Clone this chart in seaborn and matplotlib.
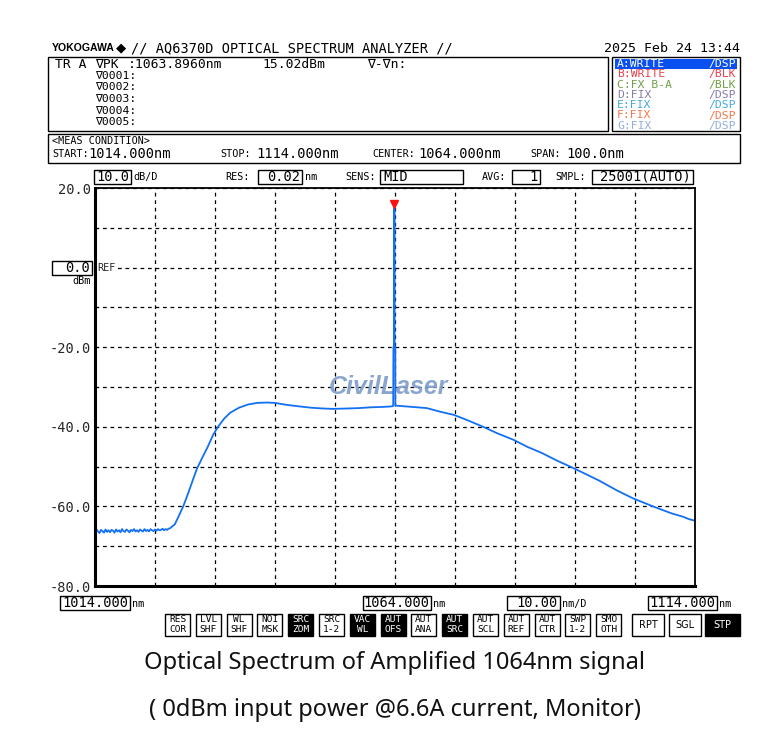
import matplotlib
matplotlib.use("Agg")
import pandas as pd
import seaborn as sns
import matplotlib.pyplot as plt
from matplotlib.patches import Rectangle
from matplotlib.transforms import offset_copy

# --- trace data (nm, dBm) ---
# noisy ASE floor on the short-wavelength side
floor_wl = [
    1014.00, 1014.25, 1014.50, 1014.75, 1015.00, 1015.25, 1015.50, 1015.75, 1016.00, 1016.25,
    1016.50, 1016.75, 1017.00, 1017.25, 1017.50, 1017.75, 1018.00, 1018.25, 1018.50, 1018.75,
    1019.00, 1019.25, 1019.50, 1019.75, 1020.00, 1020.25, 1020.50, 1020.75, 1021.00, 1021.25,
    1021.50, 1021.75, 1022.00, 1022.25, 1022.50, 1022.75, 1023.00, 1023.25, 1023.50, 1023.75,
    1024.00, 1024.25, 1024.50, 1024.75, 1025.00, 1025.25, 1025.50, 1025.75, 1026.00, 1026.25,
    1026.50,
]
floor_dbm = [
    -66.5, -65.8, -66.3, -66.7, -65.9, -66.2, -66.6, -65.8, -66.4, -66.0,
    -66.5, -65.9, -66.1, -66.6, -65.8, -66.3, -66.0, -66.5, -65.7, -66.2,
    -66.4, -65.8, -66.1, -66.5, -65.9, -66.2, -65.7, -66.3, -66.0, -66.4,
    -65.8, -66.1, -66.3, -65.7, -66.2, -65.9, -66.3, -65.7, -66.0, -66.2,
    -65.8, -66.1, -65.7, -66.0, -65.9, -65.6, -66.0, -65.7, -65.9, -65.6,
    -65.5,
]
# amplified band, signal spike and long-wavelength tail
band_wl = [
    1027.3, 1028.0, 1028.7, 1029.5, 1030.3, 1031.0, 1031.8, 1032.8, 1033.7, 1034.5,
    1035.5, 1036.5, 1038.0, 1039.5, 1041.0, 1042.6, 1044.0, 1046.0, 1048.2, 1050.0,
    1052.0, 1053.7, 1056.0, 1058.0, 1060.0, 1062.0, 1063.2, 1063.70,
    1063.74, 1063.86, 1063.896, 1063.93, 1064.05, 1064.06,
    1064.3, 1066.0, 1069.3, 1071.5, 1073.8, 1076.0, 1078.7, 1081.0, 1083.8, 1086.0,
    1088.5, 1091.0, 1093.2, 1095.0, 1098.0, 1101.0, 1103.7, 1107.0, 1110.0, 1112.0,
    1113.0, 1114.0,
]
band_dbm = [
    -64.5, -62.3, -60.0, -56.8, -53.4, -50.5, -48.0, -45.0, -42.0, -40.0,
    -38.0, -36.5, -35.2, -34.4, -34.0, -33.9, -34.0, -34.5, -34.9, -35.2,
    -35.4, -35.5, -35.4, -35.3, -35.1, -35.0, -34.9, -34.8,
    -20.0, -19.5, 15.02, -19.5, -20.0, -34.6,
    -34.7, -34.9, -35.3, -36.2, -37.0, -38.3, -40.0, -41.6, -43.3, -45.0,
    -46.6, -48.5, -50.0, -51.3, -53.5, -56.0, -58.0, -60.0, -61.7, -62.6,
    -63.2, -63.6,
]
peak_wl = 1063.896
peak_dbm = 15.02

y_ticks = [20, 10, 0, -10, -20, -30, -40, -50, -60, -70, -80]
y_tick_labels = ["20.0", "", "", "", "-20.0", "", "-40.0", "", "-60.0", "", "-80.0"]
x_ticks = [1014, 1024, 1034, 1044, 1054, 1064, 1074, 1084, 1094, 1104, 1114]

trace_names = ["A:WRITE", "B:WRITE", "C:FX B-A", "D:FIX", "E:FIX", "F:FIX", "G:FIX"]
trace_modes = ["/DSP", "/BLK", "/BLK", "/DSP", "/DSP", "/DSP", "/DSP"]
trace_colors = ["white", "#e8414a", "#6f9f45", "#8a7aa8", "#45a9da", "#f47a4c", "#93aedb"]

button_top = ["RES", "LVL", "WL", "NOI", "SRC", "SRC", "VAC", "AUT", "AUT", "AUT",
              "AUT", "AUT", "AUT", "SWP", "SMO"]
button_bot = ["COR", "SHF", "SHF", "MSK", "ZOM", "1-2", "WL", "OFS", "ANA", "SRC",
              "SCL", "REF", "CTR", "1-2", "OTH"]
button_dark = [0, 0, 0, 0, 1, 0, 1, 1, 0, 1, 0, 0, 0, 0, 0]

df = pd.DataFrame({"wavelength": floor_wl + band_wl, "power": floor_dbm + band_dbm})

sns.set_style("white")
plt.rcParams['font.family'] = ['DejaVu Sans Mono', 'DejaVu Sans']
MONO = 'DejaVu Sans Mono'

fig = plt.figure(figsize=(7.77, 7.55), dpi=100)

# background "screen" layer in pixel coordinates
bg = fig.add_axes([0, 0, 1, 1])
bg.set_xlim(0, 777)
bg.set_ylim(755, 0)
bg.axis('off')


def txt(x, y, s, size=9.5, ha='left', color='black', **kw):
    bg.text(x, y, s, fontsize=size, ha=ha, va='center', color=color,
            family=kw.pop('family', MONO), **kw)


def box(x0, y0, x1, y1, lw=1.0, fc='none', ec='black'):
    bg.add_patch(Rectangle((x0, y0), x1 - x0, y1 - y0, fill=fc != 'none',
                           facecolor=fc, edgecolor=ec, lw=lw))


# header
txt(52, 48, "YOKOGAWA", size=7.6, family='Liberation Sans', weight='bold')
txt(116, 48, "\u25c6", size=9.5, family='DejaVu Sans')
txt(131, 48, "// AQ6370D OPTICAL SPECTRUM ANALYZER //", size=9.8)
txt(740, 48, "2025 Feb 24 13:44", size=9.5, ha='right')

# marker box
box(48, 57, 608, 131)
txt(55, 64, "TR A", size=9.4)
txt(95, 64, "\u2207PK", size=9.4)
txt(128, 64, ":1063.8960nm", size=9.4)
txt(262, 64, "15.02dBm", size=9.4)
txt(367, 64, "\u2207-\u2207n:", size=9.4)
for i in range(5):
    txt(95, 76 + i * 11.5, f"\u2207000{i + 1}:", size=8.2)

# trace list box
box(612, 57, 740, 131)
box(615, 59, 737, 69, lw=0, fc='#0a50f0', ec='#0a50f0')
for i, (n, m, c) in enumerate(zip(trace_names, trace_modes, trace_colors)):
    yy = 64 + i * 10.3
    txt(617, yy, n, size=8.2, color=c)
    txt(736, yy, m, size=8.2, color=c, ha='right')

# measurement condition
box(48, 134, 740, 163)
txt(52, 141, "<MEAS CONDITION>", size=7.3)
txt(52, 154, "START:", size=7.3)
txt(88, 154, "1014.000nm", size=9.8)
txt(220, 154, "STOP:", size=7.3)
txt(256, 154, "1114.000nm", size=9.8)
txt(372, 154, "CENTER:", size=7.3)
txt(418, 154, "1064.000nm", size=9.8)
txt(530, 154, "SPAN:", size=7.3)
txt(566, 154, "100.0nm", size=9.8)

# settings row
box(94, 170, 131, 184)
txt(129, 177, "10.0", size=9.8, ha='right')
txt(133, 177, "dB/D", size=7.3)
txt(225, 177, "RES:", size=7.3)
box(258, 170, 302, 184)
txt(300, 177, "0.02", size=9.8, ha='right')
txt(305, 177, "nm", size=7.3)
txt(345, 177, "SENS:", size=7.3)
box(380, 170, 463, 184)
txt(383, 177, "MID", size=9.8)
txt(482, 177, "AVG:", size=7.3)
box(512, 170, 540, 184)
txt(538, 177, "1", size=9.8, ha='right')
txt(555, 177, "SMPL:", size=7.3)
box(592, 170, 693, 184)
txt(691, 177, "25001(AUTO)", size=9.8, ha='right')

# reference level box
box(52, 261, 92, 275)
txt(90, 268, "0.0", size=9.8, ha='right')
txt(91, 281, "dBm", size=7.3, ha='right')

# bottom scale row
box(60, 596, 130, 610)
txt(128, 603, "1014.000", size=9.8, ha='right')
txt(132, 604, "nm", size=7.3)
box(363, 596, 431, 610)
txt(429, 603, "1064.000", size=9.8, ha='right')
txt(433, 604, "nm", size=7.3)
box(507, 596, 560, 610)
txt(558, 603, "10.00", size=9.8, ha='right')
txt(562, 604, "nm/D", size=7.3)
box(648, 596, 717, 610)
txt(715, 603, "1114.000", size=9.8, ha='right')
txt(719, 604, "nm", size=7.3)

# soft key buttons
for i, (t, b, d) in enumerate(zip(button_top, button_bot, button_dark)):
    x0 = 165 + i * 30.8
    box(x0, 614, x0 + 25, 636, fc='black' if d else 'white')
    col = 'white' if d else 'black'
    txt(x0 + 12.5, 620, t, size=6.8, ha='center', color=col)
    txt(x0 + 12.5, 630, b, size=6.8, ha='center', color=col)
for x0, x1, lab, d in [(632, 664, "RPT", 0), (669, 701, "SGL", 0), (705, 740, "STP", 1)]:
    box(x0, 614, x1, 636, fc='black' if d else 'white')
    txt((x0 + x1) / 2, 625, lab, size=7, ha='center', color='white' if d else 'black',
        family='DejaVu Sans')

# captions
bg.text(395, 663, "Optical Spectrum of Amplified 1064nm signal", fontsize=17,
        ha='center', va='center', family='Noto Sans', color='#111111')
bg.text(395, 710, "( 0dBm input power @6.6A current, Monitor)", fontsize=17,
        ha='center', va='center', family='Noto Sans', color='#111111')

# spectrum plot
ax = fig.add_axes([95 / 777, 1 - 586 / 755, 600 / 777, 398 / 755])
ax.set_facecolor('white')
sns.lineplot(data=df, x="wavelength", y="power", ax=ax, color='#1270f5',
             lw=1.3, estimator=None, sort=False)
ax.set_xlim(1014, 1114)
ax.set_ylim(-80, 20)
ax.set_xticks(x_ticks)
ax.set_xticklabels([])
ax.set_yticks(y_ticks)
ax.set_yticklabels(y_tick_labels, family=MONO, fontsize=9.8)
ax.tick_params(length=0, pad=3)
ax.set_xlabel("")
ax.set_ylabel("")
ax.grid(True, ls=(0, (3, 3)), color='black', lw=0.9)
ax.set_axisbelow(True)
for side in ["left", "bottom"]:
    ax.spines[side].set_linewidth(2.2)
for side in ["top", "right"]:
    ax.spines[side].set_linewidth(1.3)
for sp in ax.spines.values():
    sp.set_color('black')

ax.text(1014.4, 0, "REF", fontsize=7.3, family=MONO, va='center', ha='left',
        bbox=dict(fc='white', ec='none', pad=0.5))

mark_tr = offset_copy(ax.transData, fig=fig, y=4, units='dots')
ax.plot([peak_wl], [peak_dbm], marker='v', color='#ff1010', ms=6, transform=mark_tr)

ax.text(0.49, 0.5, "CivilLaser", transform=ax.transAxes, fontsize=18,
        family='Liberation Sans', weight='bold', style='italic',
        color='#7f9dc9', alpha=0.9, ha='center', va='center', zorder=1)

fig.savefig("out.png", dpi=100)
